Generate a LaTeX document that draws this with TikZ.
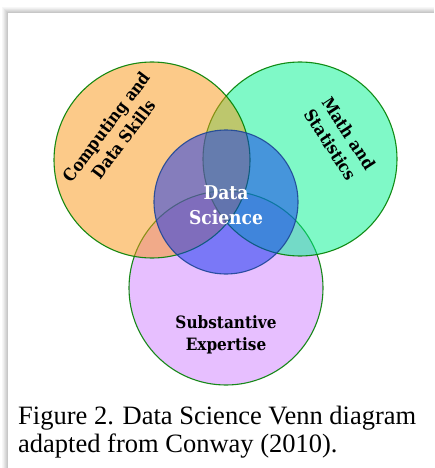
\documentclass[tikz,border=0pt]{standalone}
\usepackage{fontspec}
\setmainfont{Liberation Serif}
\newfontfamily\lblfont{DejaVu Serif Condensed}
\definecolor{subfill}{RGB}{209,129,255}
\definecolor{mathfill}{RGB}{1,245,145}
\definecolor{compfill}{RGB}{251,151,21}
\definecolor{dsfill}{RGB}{15,50,240}
\definecolor{rimgreen}{RGB}{0,128,0}
\definecolor{rimblue}{RGB}{30,70,150}
\begin{document}
\begin{tikzpicture}[x=1pt,y=-1pt,
  venn/.style={circle, inner sep=0pt, fill opacity=0.5, draw opacity=0.9, line width=1.1pt},
  lbl/.style={font=\lblfont\bfseries\fontsize{17}{21.5}\selectfont, align=center, text=black, inner sep=0pt},
]
\useasboundingbox (0,0) rectangle (434,468);
\fill[white] (0,0) rectangle (434,468);
% soft shadow along the top and left edges of the page
\foreach \i/\g in {6/3,5/6,4/10,3/14,2/18,1/22} {
  \fill[black!\g] (8-\i,13-\i) rectangle (434,468);
}
\fill[white] (8,13) rectangle (434,468);

% the four circles, back to front
\node[venn, minimum size=194pt, fill=subfill, draw=rimgreen] (sub) at (226,288) {};
\node[venn, minimum size=194pt, fill=mathfill, draw=rimgreen] (math) at (300,159) {};
\node[venn, minimum size=196pt, fill=compfill, draw=rimgreen] (comp) at (152,160) {};
\node[venn, minimum size=144pt, fill=dsfill, draw=rimblue] (ds) at (226,202) {};

% circle labels
\node[lbl, rotate=53] (compl) at (115,133) {Computing and\\Data Skills};
\node[lbl, rotate=-57] (mathl) at (340,139) {Math and\\Statistics};
\node[lbl, text=white, font=\lblfont\bfseries\fontsize{19}{25}\selectfont] (dsl) at (226,205) {Data\\Science};
\node[lbl] (subl) at (226,335) {Substantive\\Expertise};

% caption; base anchor sits on the last line
\node[anchor=base west, align=left, inner sep=0pt,
      font=\fontsize{26.5}{28.4}\selectfont] (cap) at (18,452.7)
  {Figure 2. Data Science Venn diagram\\adapted from Conway (2010).};
\end{tikzpicture}
\end{document}
